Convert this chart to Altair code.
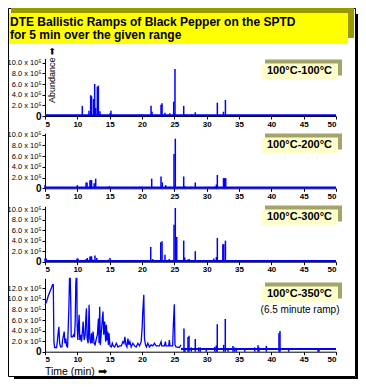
import altair as alt
import pandas as pd

# ---------------- data (abundance in units of 10^5, time in minutes) ----------------
title_lines = ["DTE Ballistic Ramps of Black Pepper on the SPTD",
               "for 5 min over the given range"]
panel_labels = ["100°C-100°C", "100°C-200°C", "100°C-300°C", "100°C-350°C"]
ramp_note = "(6.5 minute ramp)"
x_title = "Time (min) ➡"
y_title = "Abundance ➡"
x_ticks = [5, 10, 15, 20, 25, 30, 35, 40, 45, 50]
y_ticks_10 = [0, 2, 4, 6, 8, 10]
y_ticks_12 = [0, 2, 4, 6, 8, 10, 12]

# Panel 1: 100C-100C
p1_t = [10.77, 11.8, 12.06, 12.2, 12.5, 12.68, 12.85, 13.09, 13.25, 13.5, 15.05, 15.2,
        19.6, 19.95, 21.4, 21.55, 22.94, 23.1, 23.55, 24.3, 24.9, 25.1, 26.45, 26.85,
        27.6, 28.24, 31.65, 32.6, 32.9]
p1_v = [1.9, 1.0, 3.9, 3.7, 3.2, 6.0, 1.5, 5.5, 5.7, 0.9, 0.5, 1.0,
        0.3, 0.3, 1.9, 0.8, 2.1, 2.4, 0.6, 0.5, 2.7, 8.8, 1.9, 0.3,
        0.3, 0.7, 2.5, 0.8, 3.0]

# Panel 2: 100C-200C
p2_t = [5.0, 10.0, 11.35, 11.5, 11.95, 12.1, 12.2, 12.6, 12.84, 13.24, 14.95, 19.7,
        19.95, 21.5, 22.94, 23.14, 23.66, 24.33, 24.95, 25.15, 26.45, 26.6, 27.6, 28.24,
        31.24, 31.5, 31.65, 32.6, 32.75, 32.95]
p2_v = [0.6, 0.6, 1.1, 1.1, 1.5, 1.5, 1.5, 0.95, 1.8, 0.3, 0.4, 0.3,
        0.3, 1.8, 2.2, 1.1, 0.6, 0.3, 6.4, 9.25, 2.2, 0.4, 0.3, 1.1,
        0.3, 0.7, 2.5, 1.9, 1.9, 1.9]

# Panel 3: 100C-300C
p3_t = [5.0, 5.2, 5.6, 5.8, 6.0, 6.2, 7.2, 9.95, 10.1, 10.9, 11.35, 11.55, 11.95, 12.1,
        12.2, 12.37, 12.73, 13.0, 13.2, 14.8, 15.05, 18.1, 19.2, 19.5, 19.8, 21.35, 21.65,
        22.9, 23.1, 23.55, 24.2, 24.95, 25.15, 25.37, 25.87, 26.45, 26.6, 27.1, 27.3, 27.6,
        28.24, 29.2, 30.8, 31.1, 31.5, 31.65, 32.5, 32.65, 32.9, 33.3, 33.7, 34.1, 49.2,
        49.5, 49.8]
p3_v = [0.6, 0.6, 0.3, 0.3, 0.3, 0.3, 0.3, 0.6, 0.6, 0.2, 0.5, 0.7, 1.0, 1.0,
        1.0, 0.4, 1.2, 0.7, 0.3, 0.4, 0.7, 0.3, 0.3, 0.3, 0.3, 2.8, 0.5,
        3.7, 3.9, 1.3, 0.5, 7.0, 10.2, 4.7, 0.3, 4.0, 0.8, 0.4, 0.5, 0.3,
        2.0, 0.2, 0.3, 0.6, 0.9, 4.5, 3.3, 3.3, 4.0, 0.3, 0.3, 0.3, 0.3,
        0.3, 0.3]

# Panel 4: 100C-350C, continuous trace up to ~26 min
p4_trace = [
    (5.00, 8.9), (5.26, 9.5), (5.51, 10.6), (5.77, 11.4), (6.03, 12.2), (6.18, 12.7),
    (6.28, 12.7), (6.38, 1.9), (6.49, 0.8), (6.79, 0.8), (6.90, 1.9), (7.05, 3.8),
    (7.15, 4.7), (7.26, 1.6), (7.41, 0.9), (7.62, 0.9), (7.72, 2.2), (7.82, 2.8),
    (7.97, 3.8), (8.08, 1.6), (8.23, 2.5), (8.33, 1.1), (8.49, 0.9), (8.59, 4.4),
    (8.69, 8.2), (8.79, 14.6), (8.90, 14.6), (9.00, 8.2), (9.05, 2.8), (9.26, 2.8),
    (9.41, 3.2), (9.56, 2.8), (9.67, 5.7), (9.77, 13.0), (9.82, 14.6), (9.92, 14.6),
    (9.97, 5.1), (10.08, 2.2), (10.18, 5.1), (10.28, 7.0), (10.38, 2.2), (10.54, 3.2),
    (10.64, 1.9), (10.79, 3.8), (10.90, 5.7), (11.05, 2.2), (11.21, 3.2), (11.31, 6.3),
    (11.41, 8.2), (11.51, 2.5), (11.67, 1.6), (11.82, 8.9), (11.92, 2.5), (12.08, 1.6),
    (12.18, 3.5), (12.28, 1.6), (12.44, 3.8), (12.59, 1.6), (12.74, 1.3), (12.95, 2.5),
    (13.10, 3.2), (13.26, 6.3), (13.36, 1.6), (13.46, 8.5), (13.56, 1.3), (13.72, 3.8),
    (13.87, 6.3), (13.97, 7.6), (14.08, 3.2), (14.23, 5.7), (14.38, 1.9), (14.49, 5.1),
    (14.59, 2.2), (14.69, 3.8), (14.79, 1.3), (14.90, 3.5), (15.05, 1.1), (15.26, 0.9),
    (15.41, 1.6), (15.56, 1.1), (15.77, 0.9), (16.03, 1.6), (16.28, 0.9), (16.54, 1.1),
    (16.79, 1.1), (17.05, 1.9), (17.21, 1.6), (17.36, 2.8), (17.51, 1.3), (17.67, 0.9),
    (17.82, 2.5), (17.97, 1.3), (18.13, 1.9), (18.33, 0.9), (18.59, 1.6), (18.85, 1.1),
    (19.10, 0.9), (19.36, 1.6), (19.62, 1.1), (19.87, 1.9), (20.03, 4.7), (20.13, 7.9),
    (20.28, 10.8), (20.38, 2.5), (20.54, 1.3), (20.69, 0.9), (20.90, 1.6), (21.15, 0.9),
    (21.41, 1.3), (21.67, 1.1), (21.92, 1.6), (22.18, 1.1), (22.69, 1.1), (22.95, 1.9),
    (23.05, 1.1), (23.46, 1.1), (23.62, 1.9), (23.72, 1.1), (24.13, 1.1), (24.23, 2.2),
    (24.33, 1.1), (24.74, 1.1), (24.85, 5.1), (25.00, 9.0), (25.10, 1.3), (25.26, 0.9),
    (25.77, 0.8), (26.03, 1.3),
]
# Panel 4: peaks after 26 min
p4_t = [26.49, 26.65, 27.11, 27.27, 27.62, 28.24, 28.77, 29.01, 29.94, 31.24, 31.49,
        31.64, 32.63, 32.88, 33.30, 34.07, 34.33, 34.58, 35.88, 37.43, 37.94, 38.09,
        39.22, 41.18, 41.34, 42.68, 47.21, 47.37]
p4_v = [4.4, 0.6, 2.8, 3.0, 0.8, 2.4, 0.8, 0.8, 0.6, 0.9, 1.2,
        5.2, 1.3, 6.2, 0.7, 1.1, 0.8, 0.6, 0.6, 0.8, 1.2, 0.8,
        1.1, 3.5, 3.9, 0.5, 0.7, 0.6]

baseline_t = [5, 50]
baseline_lvl = [0.15, 0.15, 0.15]   # panels 1-3 noise floor
p4_tail_t = [26.03, 50]
p4_tail_lvl = 0.5

# ---------------- layout / style ----------------
BLUE = "#0000ff"
FONT = "Liberation Sans"
W, H = 350, 371
X_RANGE = [37, 328]
# (zero baseline px, px per unit, domain top)
GEOM = [(108.0, 5.33, 10.8), (180.3, 5.36, 10.3), (253.7, 5.27, 10.5), (343.7, 5.28, 13.9)]
YEXPR = "datum.value == 0 ? '0' : format(datum.value, '.1f') + ' x 10⁵'"


def scales(i):
    b, k, top = GEOM[i]
    xs = alt.Scale(domain=[5, 50], range=X_RANGE, nice=False, zero=False)
    ys = alt.Scale(domain=[0, top], range=[b, b - top * k], nice=False, zero=False, clamp=True)
    xa = alt.Axis(orient="bottom", offset=b - H, values=x_ticks, title=None, grid=False,
                  domainColor="black", tickColor="black", tickSize=3, labelFontSize=8,
                  labelPadding=1, labelColor="black", labelFont=FONT, labelFontWeight="bold")
    ya = alt.Axis(orient="left", offset=-X_RANGE[0], values=y_ticks_12 if i == 3 else y_ticks_10,
                  title=None, grid=False, domainColor="black", tickColor="black", tickSize=3,
                  labelFontSize={"condition": {"test": "datum.value == 0", "value": 10}, "value": 7.5},
                  labelFontWeight={"condition": {"test": "datum.value == 0", "value": "bold"},
                                   "value": "normal"},
                  labelPadding=1, labelColor="black",
                  labelFont="Liberation Sans Narrow, Liberation Sans", labelExpr=YEXPR)
    return xs, ys, xa, ya


def spikes(ts, vs, i, base_t, base_v):
    xs, ys, xa, ya = scales(i)
    pk = pd.DataFrame({"t": ts, "v": vs})
    bl = pd.DataFrame({"t": base_t, "v": base_v})
    base = alt.Chart(bl).mark_line(color=BLUE, strokeWidth=2).encode(
        x=alt.X("t:Q", scale=xs, axis=xa), y=alt.Y("v:Q", scale=ys, axis=ya))
    peaks = alt.Chart(pk).mark_rule(color=BLUE, strokeWidth=1.5).encode(
        x=alt.X("t:Q", scale=xs, axis=xa), y=alt.Y("v:Q", scale=ys, axis=ya), y2=alt.datum(0))
    return base, peaks


one = pd.DataFrame({"d": [0]})


def rect(x1, x2, y1, y2, fill):
    return alt.Chart(one).mark_rect(color=fill).encode(
        x=alt.value(x1), x2=alt.value(x2), y=alt.value(y1), y2=alt.value(y2))


def text(t, x, y, size, weight="normal", align="left", angle=0):
    return alt.Chart(one).mark_text(text=t, font=FONT, fontSize=size, fontWeight=weight,
                                    align=align, baseline="middle", color="black",
                                    angle=angle).encode(x=alt.value(x), y=alt.value(y))


layers = []
# frame with shadow
layers.append(alt.Chart(one).mark_rect(filled=False, stroke="black", strokeWidth=1).encode(
    x=alt.value(0.5), x2=alt.value(347.5), y=alt.value(0.5), y2=alt.value(368.5)))
layers.append(rect(348, 350, 6, 371, "black"))
layers.append(rect(6, 350, 369, 371, "black"))
# title box
layers.append(rect(3, 346, 0, 30, "#999900"))
layers.append(rect(1, 340, 5, 36, "#ffff00"))
layers.append(text(title_lines[0], 2, 14, 12, "bold"))
layers.append(text(title_lines[1], 2, 26.5, 12, "bold"))
# panel label boxes
box_tops = [55.5, 129.5, 201.5, 278.5]
for lab, top in zip(panel_labels, box_tops):
    layers.append(rect(257, 334, top - 4, top + 12, "#a3a36a"))
    layers.append(rect(253, 330, top, top + 16, "#ffffcc"))
    layers.append(text(lab, 291.5, top + 7.5, 11, "bold", "center"))
layers.append(text(ramp_note, 292, 302, 10, "normal", "center"))
layers.append(text(y_title, 44, 67, 9, "normal", "center", 270))
layers.append(text(x_title, 37, 364, 10.5))

panels = []
for i, (ts, vs) in enumerate([(p1_t, p1_v), (p2_t, p2_v), (p3_t, p3_v)]):
    b, p = spikes(ts, vs, i, baseline_t, [baseline_lvl[i]] * 2)
    panels.append(alt.layer(b, p))

xs, ys, xa, ya = scales(3)
tr = pd.DataFrame(p4_trace, columns=["t", "v"])
trace = alt.Chart(tr).mark_line(color=BLUE, strokeWidth=1.3).encode(
    x=alt.X("t:Q", scale=xs, axis=xa), y=alt.Y("v:Q", scale=ys, axis=ya))
b4, pk4 = spikes(p4_t, p4_v, 3, p4_tail_t, [p4_tail_lvl] * 2)
panels.append(alt.layer(trace, b4, pk4))

chart = alt.layer(*layers, *panels).resolve_scale(x="independent", y="independent").properties(
    width=W, height=H, autosize=alt.AutoSizeParams(type="none"), padding=0,
    background="white").configure_view(strokeWidth=0)

chart.save("out.html", embed_options={"renderer": "svg", "actions": False})
